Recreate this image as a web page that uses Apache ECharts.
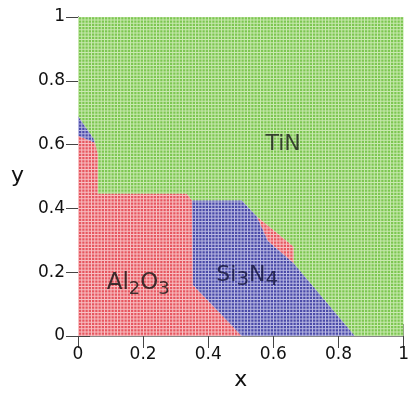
<!DOCTYPE html>
<html>
<head>
<meta charset="utf-8">
<script src="https://cdn.jsdelivr.net/npm/echarts@6/dist/echarts.min.js"></script>
<style>
  html, body { margin: 0; padding: 0; background: #fff; }
  #main { width: 412px; height: 396px; }
</style>
</head>
<body>
<div id="main"></div>
<script>
// phase regions, vertices as [x, y]
const tinRegion = [
  [0, 1], [1, 1], [1, 0], [0.85, 0], [0.662, 0.228], [0.662, 0.28],
  [0.549, 0.375], [0.503, 0.425], [0.35, 0.425], [0.334, 0.446],
  [0.061, 0.446], [0.061, 0.57], [0.052, 0.606], [0.047, 0.62],
  [0.025, 0.652], [0, 0.689]
];
const al2o3Region = [
  [0, 0], [0.503, 0], [0.353, 0.16], [0.35, 0.425], [0.334, 0.446],
  [0.061, 0.446], [0.061, 0.57], [0.052, 0.606], [0, 0.628]
];
const al2o3Strip = [
  [0.549, 0.375], [0.662, 0.28], [0.662, 0.228], [0.583, 0.298]
];
const si3n4Region = [
  [0.35, 0.425], [0.503, 0.425], [0.549, 0.375], [0.583, 0.298],
  [0.662, 0.228], [0.85, 0], [0.503, 0], [0.353, 0.16]
];
const si3n4Pocket = [
  [0, 0.689], [0.025, 0.652], [0.047, 0.62], [0.052, 0.606], [0, 0.628]
];

const tickValues = [0, 0.2, 0.4, 0.6, 0.8, 1];

// label positions (x, y, text)
const phaseLabels = [
  { value: [0.63, 0.592], name: 'TiN' },
  { value: [0.185, 0.158], name: 'Al2O3' },
  { value: [0.52, 0.18], name: 'Si3N4' }
];

// mesh texture of the computation grid (about 100 cells across)
function meshPattern(base, line) {
  const c = document.createElement('canvas');
  c.width = 13;
  c.height = 13;
  const ctx = c.getContext('2d');
  ctx.fillStyle = base;
  ctx.fillRect(0, 0, 13, 13);
  ctx.strokeStyle = line;
  ctx.lineWidth = 1;
  for (let k = 0; k < 4; k++) {
    const p = k * 3.25 + 0.5;
    ctx.beginPath();
    ctx.moveTo(p, 0); ctx.lineTo(p, 13);
    ctx.moveTo(0, p); ctx.lineTo(13, p);
    ctx.stroke();
  }
  return { image: c, repeat: 'repeat' };
}

const fills = {
  green: meshPattern('#7cc651', '#c9e9b0'),
  red: meshPattern('#e6565f', '#f8c0c3'),
  blue: meshPattern('#4a4aa8', '#b9b9e3')
};

function regionSeries(points, fill) {
  return {
    type: 'custom',
    coordinateSystem: 'cartesian2d',
    clip: true,
    silent: true,
    data: points,
    renderItem: function (params, api) {
      if (params.dataIndex !== 0) return;
      return {
        type: 'polygon',
        shape: { points: points.map(p => api.coord(p)) },
        style: { fill: fill, stroke: null }
      };
    }
  };
}

const font = 'DejaVu Sans';
const chart = echarts.init(document.getElementById('main'));

const axisCommon = {
  type: 'value',
  min: 0,
  max: 1,
  interval: 0.2,
  splitLine: { show: false },
  axisLine: { show: true, lineStyle: { color: '#111', width: 1 } },
  axisTick: { show: true, inside: true, length: 12, lineStyle: { color: '#444' } }
};

const option = {
  animation: false,
  backgroundColor: '#fff',
  grid: { left: 78, right: 8, top: 17, bottom: 54, containLabel: false },
  xAxis: [
    Object.assign({}, axisCommon, {
      position: 'bottom',
      name: 'x',
      nameLocation: 'middle',
      nameGap: 33,
      nameTextStyle: { fontFamily: font, fontSize: 22, color: '#111' },
      axisLabel: {
        fontFamily: font, fontSize: 17, color: '#111', margin: 10,
        formatter: v => tickValues.indexOf(v) >= 0 ? String(v) : ''
      }
    }),
    Object.assign({}, axisCommon, {
      position: 'top',
      axisLine: { show: true, lineStyle: { color: '#888', width: 1 } },
      axisLabel: { show: false }
    })
  ],
  yAxis: [
    Object.assign({}, axisCommon, {
      position: 'left',
      name: 'y',
      nameLocation: 'middle',
      nameRotate: 0,
      nameGap: 54,
      nameTextStyle: { fontFamily: font, fontSize: 22, color: '#111' },
      axisLabel: {
        fontFamily: font, fontSize: 17, color: '#111', margin: 13,
        formatter: v => tickValues.indexOf(v) >= 0 ? String(v) : ''
      }
    }),
    Object.assign({}, axisCommon, {
      position: 'right',
      axisLine: { show: true, lineStyle: { color: '#888', width: 1 } },
      axisLabel: { show: false }
    })
  ],
  series: [
    regionSeries(tinRegion, fills.green),
    regionSeries(al2o3Region, fills.red),
    regionSeries(al2o3Strip, fills.red),
    regionSeries(si3n4Region, fills.blue),
    regionSeries(si3n4Pocket, fills.blue),
    {
      type: 'scatter',
      symbolSize: 0,
      silent: true,
      z: 10,
      data: phaseLabels,
      label: {
        show: true,
        position: 'inside',
        fontFamily: font,
        formatter: function (p) {
          if (p.name === 'TiN') return '{t|TiN}';
          if (p.name === 'Al2O3') return '{n|Al}{s|2}{n|O}{s|3}';
          return '{m|Si}{d|3}{m|N}{d|4}';
        },
        rich: {
          t: { fontFamily: font, fontSize: 22, color: '#1a1a1a', lineHeight: 28, verticalAlign: 'top' },
          n: { fontFamily: font, fontSize: 23, color: '#111', lineHeight: 28, verticalAlign: 'top' },
          s: { fontFamily: font, fontSize: 18, color: '#111', lineHeight: 28, verticalAlign: 'top', padding: [9, 0, 0, 0] },
          m: { fontFamily: font, fontSize: 22, color: '#111138', lineHeight: 28, verticalAlign: 'top' },
          d: { fontFamily: font, fontSize: 20, color: '#111138', lineHeight: 28, verticalAlign: 'top', padding: [5, 0, 0, 0] }
        }
      }
    }
  ]
};

chart.setOption(option);
</script>
</body>
</html>
